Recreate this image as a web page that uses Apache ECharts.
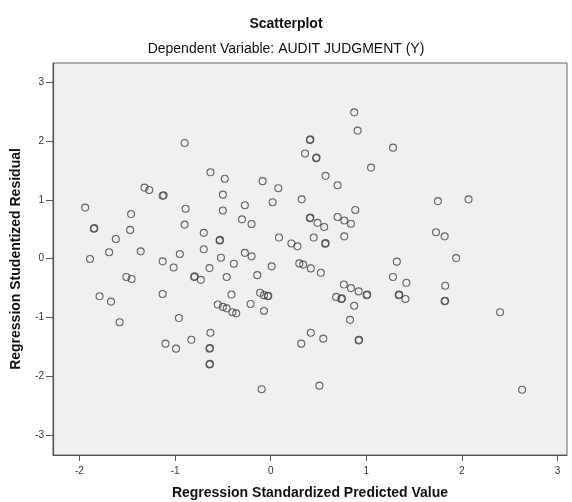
<!DOCTYPE html>
<html>
<head>
<meta charset="utf-8">
<script src="https://cdn.jsdelivr.net/npm/echarts@6/dist/echarts.min.js"></script>
<style>
html,body{margin:0;padding:0;background:#fff;}
#tu_1{width:572px;height:502px;}
</style>
</head>
<body>
<div id="tu_1"></div>
<script>
// x = Regression Standardized Predicted Value, y = Regression Studentized Residual
var predicted = [
	-0.90,-0.63,-1.32,-1.27,-1.13,-1.12,0.874,0.91,0.41,0.415,0.36,0.475,0.48,1.05,
	-0.48,0.574,-0.084,0.08,0.70,-0.50,0.325,-0.27,0.02,-0.50,-0.30,-0.20,0.885,
	0.41,0.415,0.49,0.56,0.70,0.77,0.84,-0.70,-0.535,-0.53,0.087,0.217,0.28,0.45,
	0.57,0.575,0.77,-0.70,-0.52,-0.27,-0.20,-0.385,-0.64,0.01,0.30,0.34,0.42,0.525,
	-0.73,-0.46,-0.14,-0.41,-0.11,-0.07,-0.03,-0.025,0.766,0.84,0.92,1.004,1.01,0.685,
	0.74,0.745,0.874,0.83,-0.553,-0.50,-0.46,-0.40,-0.36,-0.21,-0.07,-0.63,-0.64,-0.635,
	-0.64,-0.635,-0.094,0.32,0.42,0.55,0.92,0.925,0.51,-1.58,-0.96,-1.10,-0.99,-0.83,
	-1.94,-1.85,-1.845,-1.89,-1.46,-1.47,-1.62,-1.69,-1.36,-1.51,-1.455,-1.79,-1.67,
	-1.13,-1.015,-1.13,-0.95,-0.89,-0.90,-0.80,-0.795,1.75,2.07,1.73,1.82,1.94,1.32,
	1.28,1.42,1.34,1.345,1.41,1.826,1.82,1.825,2.40,1.28,2.63
];
var residual = [
	1.97,1.47,1.21,1.17,1.07,1.08,2.49,2.18,2.02,2.03,1.79,1.71,1.72,1.55,
	1.36,1.41,1.32,1.20,1.25,1.09,1.01,0.91,0.96,0.82,0.67,0.59,0.83,
	0.69,0.70,0.61,0.54,0.71,0.65,0.595,0.44,0.31,0.32,0.36,0.26,0.21,0.36,
	0.255,0.265,0.38,0.16,0.017,0.10,0.04,-0.085,-0.16,-0.13,-0.08,-0.10,-0.165,-0.24,
	-0.36,-0.31,-0.28,-0.61,-0.58,-0.62,-0.64,-0.63,-0.44,-0.50,-0.556,-0.62,-0.61,-0.65,
	-0.685,-0.675,-0.80,-1.04,-0.78,-0.82,-0.845,-0.91,-0.93,-0.77,-0.89,-1.26,-1.53,-1.52,
	-1.80,-1.79,-2.22,-1.445,-1.26,-1.36,-1.39,-1.38,-2.16,-1.08,-1.01,-1.445,-1.53,-1.38,
	0.87,0.51,0.52,-0.005,0.76,0.49,0.335,0.11,0.125,-0.31,-0.345,-0.64,-0.73,
	-0.045,-0.15,-0.60,0.08,0.85,0.58,-0.31,-0.30,0.98,1.01,0.45,0.38,0.01,-0.05,
	-0.31,-0.41,-0.62,-0.61,-0.685,-0.46,-0.725,-0.715,-0.91,1.89,-2.23
];
var xTicks = [-2,-1,0,1,2,3];
var yTicks = [-3,-2,-1,0,1,2,3];

var myChart_1 = echarts.init(document.getElementById('tu_1'));
var pts = [];
for (var i = 0; i < predicted.length; i++) {
	pts.push([predicted[i], residual[i]]);
}
var fnt = 'Arial, "Liberation Sans", sans-serif';
var option = {
	backgroundColor: '#fff',
	animation: false,
	title: [
		{ text: 'Scatterplot', left: 'center', top: 12,
		  textStyle: { fontFamily: fnt, fontSize: 14, fontWeight: 'bold', color: '#111' } },
		{ text: 'Dependent Variable: AUDIT JUDGMENT (Y)', left: 'center', top: 37,
		  textStyle: { fontFamily: fnt, fontSize: 14, fontWeight: 'normal', color: '#111' } }
	],
	grid: {
		left: 53, right: 5, top: 63, bottom: 47,
		outerBoundsMode: 'none',
		show: true, backgroundColor: '#f0f0f0', borderColor: '#666', borderWidth: 1
	},
	xAxis: {
		type: 'value', min: -2.277, max: 3.1,
		name: 'Regression Standardized Predicted Value',
		nameLocation: 'middle', nameGap: 31,
		nameTextStyle: { fontFamily: fnt, fontSize: 14, fontWeight: 'bold', color: '#111' },
		axisLine: { show: true, onZero: false, lineStyle: { color: '#555', width: 1.2 } },
		axisTick: { show: true, length: 6, customValues: xTicks, lineStyle: { color: '#555' } },
		axisLabel: { customValues: xTicks, fontFamily: fnt, fontSize: 10, color: '#333', margin: 11 },
		splitLine: { show: false }
	},
	yAxis: {
		type: 'value', min: -3.34, max: 3.33,
		name: 'Regression Studentized Residual',
		nameLocation: 'middle', nameGap: 30,
		nameTextStyle: { fontFamily: fnt, fontSize: 14, fontWeight: 'bold', color: '#111' },
		axisLine: { show: true, onZero: false, lineStyle: { color: '#555', width: 1.2 } },
		axisTick: { show: true, length: 7, customValues: yTicks, lineStyle: { color: '#555' } },
		axisLabel: { customValues: yTicks, fontFamily: fnt, fontSize: 10, color: '#333', margin: 9 },
		splitLine: { show: false }
	},
	series: [{
		type: 'scatter',
		symbol: 'circle',
		symbolSize: 7,
		itemStyle: { color: 'rgba(0,0,0,0)', borderColor: '#444', borderWidth: 1.1 },
		emphasis: { disabled: true },
		data: pts
	}]
};
myChart_1.setOption(option);
</script>
</body>
</html>
